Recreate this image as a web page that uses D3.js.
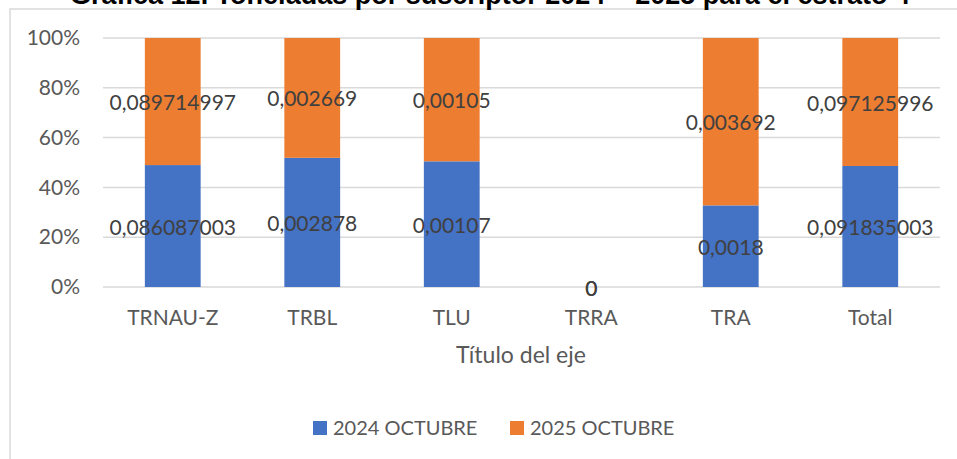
<!DOCTYPE html>
<html>
<head>
	<meta charset="utf-8">
	<title>Toneladas por suscriptor</title>
	<style type="text/css">
		body { margin: 0; background: #fff; }
		svg { display: block; }
		text { font-family: 'Lato', 'Open Sans', sans-serif; }
	</style>
	<script src="https://d3js.org/d3.v7.min.js"></script>
</head>
<body>
	<svg width="957" height="459"></svg>
	<script type="text/javascript">
		// data
		var categories = ['TRNAU-Z', 'TRBL', 'TLU', 'TRRA', 'TRA', 'Total'];
		var seriesNames = ['2024 OCTUBRE', '2025 OCTUBRE'];
		var values2024 = [0.086087003, 0.002878, 0.00107, 0, 0.0018, 0.091835003];
		var values2025 = [0.089714997, 0.002669, 0.00105, 0, 0.003692, 0.097125996];
		var labels2024 = ['0,086087003', '0,002878', '0,00107', '0', '0,0018', '0,091835003'];
		var labels2025 = ['0,089714997', '0,002669', '0,00105', '0', '0,003692', '0,097125996'];
		var yTicks = [0, 0.2, 0.4, 0.6, 0.8, 1];
		var colors = ['#4472C4', '#ED7D31'];

		var svg = d3.select('svg');

		// chart frame, runs off the picture on the right and bottom
		svg.append('rect')
			.attr('x', 10).attr('y', 9)
			.attr('width', 1000).attr('height', 500)
			.attr('fill', 'none')
			.attr('stroke', '#d9d9d9')
			.attr('stroke-width', 1.5);

		// title sits above the frame and is cut by the top edge, as in the source
		svg.append('text')
			.attr('x', 490).attr('y', 4)
			.attr('text-anchor', 'middle')
			.style('font-family', "'Liberation Sans', Arial, sans-serif")
			.style('font-weight', 'bold')
			.style('font-size', '27px')
			.attr('fill', '#000')
			.text('Gráfica 12. Toneladas por suscriptor 2024 – 2025 para el estrato 4');

		var x = d3.scaleBand()
			.domain(categories)
			.range([103, 940])
			.paddingInner(0.6)
			.paddingOuter(0.3);

		var y = d3.scaleLinear()
			.domain([0, 1])
			.range([287, 38]);

		// gridlines
		svg.append('g')
			.selectAll('line')
			.data(yTicks)
			.enter()
			.append('line')
			.attr('x1', 103).attr('x2', 940)
			.attr('y1', (d) => y(d)).attr('y2', (d) => y(d))
			.attr('stroke', '#d9d9d9')
			.attr('stroke-width', 1.5);

		// y axis labels
		var yAxis = svg.append('g')
			.attr('transform', 'translate(86,0)')
			.call(d3.axisLeft(y).tickValues(yTicks).tickFormat(d3.format('.0%')).tickSize(0).tickPadding(6));
		yAxis.select('.domain').remove();
		yAxis.selectAll('text')
			.style('font-size', '21px')
			.attr('fill', '#595959')
			.style('font-family', "'Lato', sans-serif");

		// x axis labels
		var xAxis = svg.append('g')
			.attr('transform', 'translate(0,302)')
			.call(d3.axisBottom(x).tickSize(0).tickPadding(8));
		xAxis.select('.domain').remove();
		xAxis.selectAll('text')
			.style('font-size', '21px')
			.attr('fill', '#595959')
			.style('font-family', "'Lato', sans-serif");

		var rows = categories.map((c, i) => {
			var tot = values2024[i] + values2025[i];
			var p1 = tot ? values2024[i] / tot : 0;
			var p2 = tot ? values2025[i] / tot : 0;
			return {cat: c, seg: [[0, p1], [p1, p1 + p2]], lab: [labels2024[i], labels2025[i]]};
		});

		[0, 1].forEach((s) => {
			svg.append('g')
				.selectAll('rect')
				.data(rows)
				.enter()
				.append('rect')
				.attr('x', (d) => x(d.cat))
				.attr('width', x.bandwidth())
				.attr('y', (d) => y(d.seg[s][1]))
				.attr('height', (d) => y(d.seg[s][0]) - y(d.seg[s][1]))
				.attr('fill', colors[s]);
		});

		[0, 1].forEach((s) => {
			svg.append('g')
				.selectAll('text')
				.data(rows)
				.enter()
				.append('text')
				.attr('x', (d) => x(d.cat) + x.bandwidth() / 2)
				.attr('y', (d) => (y(d.seg[s][0]) + y(d.seg[s][1])) / 2 + 1)
				.attr('dy', '0.36em')
				.attr('text-anchor', 'middle')
				.style('font-size', '21px')
				.attr('fill', '#404040')
				.text((d) => d.lab[s]);
		});

		svg.append('text')
			.attr('x', 521).attr('y', 363)
			.attr('text-anchor', 'middle')
			.style('font-size', '23px')
			.attr('fill', '#595959')
			.text('Título del eje');

		// legend
		var legX = [313, 510];
		seriesNames.forEach((n, i) => {
			svg.append('rect')
				.attr('x', legX[i]).attr('y', 421)
				.attr('width', 14).attr('height', 14)
				.attr('fill', colors[i]);
			svg.append('text')
				.attr('x', legX[i] + 20).attr('y', 435)
				.style('font-size', '20px')
				.attr('fill', '#595959')
				.text(n);
		});
	</script>
</body>
</html>
